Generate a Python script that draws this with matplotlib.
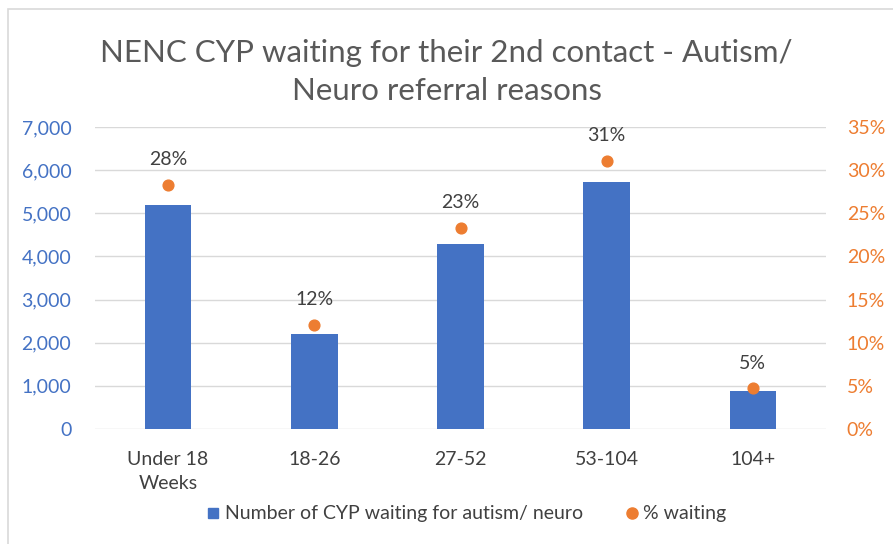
import matplotlib
matplotlib.use("Agg")
import matplotlib.pyplot as plt
from matplotlib.lines import Line2D
from matplotlib.patches import Rectangle
from matplotlib.ticker import FuncFormatter, MultipleLocator

categories = ["Under 18\nWeeks", "18-26", "27-52", "53-104", "104+"]
counts = [5200, 2210, 4290, 5720, 870]
pct_waiting = [28.3, 12.1, 23.3, 31.1, 4.7]
pct_labels = ["28%", "12%", "23%", "31%", "5%"]

plt.rcParams['font.family'] = ['Lato', 'DejaVu Sans']

W, H = 893, 544
fig = plt.figure(figsize=(W / 100, H / 100), dpi=100)
ax = fig.add_axes([95 / W, 1 - 429 / H, (826 - 95) / W, (429 - 127) / H])
ax2 = ax.twinx()

blue = "#4472C4"
orange = "#ED7D31"
x = list(range(len(categories)))

ax.bar(x, counts, width=0.32, color=blue, zorder=3)
ax.set_ylim(0, 7000)
ax.set_xlim(-0.5, len(categories) - 0.5)
ax.yaxis.set_major_locator(MultipleLocator(1000))
ax.yaxis.set_major_formatter(FuncFormatter(lambda v, p: f"{int(v):,}"))
ax.grid(axis="y", color="#D9D9D9", linewidth=1, zorder=0)
ax.set_axisbelow(True)
ax.set_xticks(x)
ax.set_xticklabels(categories, fontsize=14, color="#404040", linespacing=1.5)
ax.tick_params(axis="x", length=0, pad=16)
ax.tick_params(axis="y", length=0, labelsize=14, labelcolor="#4472C4", pad=17)

ax2.scatter(x, pct_waiting, s=60, color=orange, zorder=5)
ax2.set_ylim(0, 35)
ax2.yaxis.set_major_locator(MultipleLocator(5))
ax2.yaxis.set_major_formatter(FuncFormatter(lambda v, p: f"{int(v)}%"))
ax2.tick_params(axis="y", length=0, labelsize=14, labelcolor=orange, pad=15)
for xi, yi, lab in zip(x, pct_waiting, pct_labels):
    ax2.annotate(lab, (xi, yi), xytext=(0, 12), textcoords="offset points",
                 ha="center", va="bottom", fontsize=14, color="#404040")

for a in (ax, ax2):
    for s in a.spines.values():
        s.set_visible(False)

fig.text(0.5, 1 - 72 / H, "NENC CYP waiting for their 2nd contact - Autism/\nNeuro referral reasons",
         ha="center", va="center", fontsize=22.5, color="#595959", linespacing=1.45)

handles = [Line2D([0], [0], marker="s", linestyle="none", markersize=7, color=blue),
           Line2D([0], [0], marker="o", linestyle="none", markersize=8, color=orange)]
fig.legend(handles, ["Number of CYP waiting for autism/ neuro", "% waiting"],
           loc="center", bbox_to_anchor=(465 / W, 1 - 514 / H), ncol=2, frameon=False,
           fontsize=14, labelcolor="#404040", handletextpad=0.1, columnspacing=2.0,
           handlelength=1.0)

fig.patches.append(Rectangle((8 / W, -0.1), 1.2, 1.1 - 9 / H, transform=fig.transFigure,
                             fill=False, edgecolor="#D9D9D9", linewidth=1.2))

fig.savefig("out.png", dpi=100)
